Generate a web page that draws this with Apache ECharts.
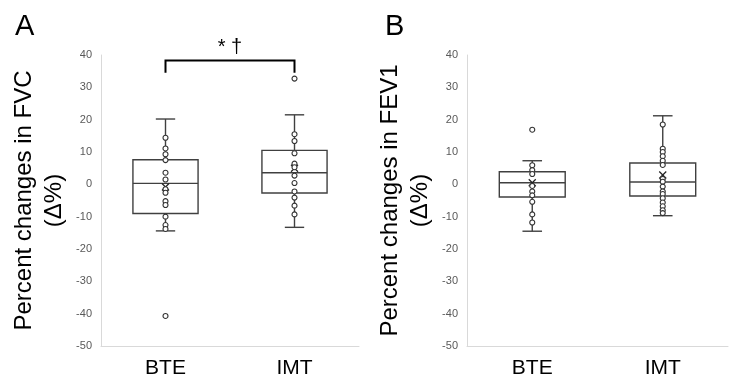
<!DOCTYPE html>
<html>
<head>
<meta charset="utf-8">
<script src="https://cdn.jsdelivr.net/npm/echarts@6/dist/echarts.min.js"></script>
<style>html,body{margin:0;padding:0;background:#fff}#c{width:740px;height:388px}</style>
</head>
<body>
<div id="c"></div>
<script>
// ---- data ----
const categories = ['BTE', 'IMT'];
const yTicks = { min: -50, max: 40, step: 10 };

// Panel A: FVC  — box stats [min, Q1, median, Q3, max]
const fvcBoxBTE = [-14.4, -9.0, 0.3, 7.6, 20.2];
const fvcBoxIMT = [-13.3, -2.7, 3.6, 10.5, 21.5];
const fvcMean = [-0.8, 5.0];
const fvcPointsBTE = [14.4, 11.1, 9.3, 7.5, 3.6, 1.5, -1.5, -2.6, -5.2, -6.4, -10.0, -12.6, -13.8, -40.7];
const fvcPointsIMT = [32.7, 15.5, 13.4, 9.6, 6.4, 5.3, 2.7, 0.4, -2.2, -4.1, -6.6, -9.3];

// Panel B: FEV1
const fev1BoxBTE = [-14.5, -3.9, 0.5, 3.9, 7.3];
const fev1BoxIMT = [-9.7, -3.6, 0.7, 6.6, 21.2];
const fev1Mean = [0.5, 2.9];
const fev1PointsBTE = [16.9, 5.9, 4.4, 3.2, -0.5, -2.2, -3.4, -5.4, -9.3, -11.8];
const fev1PointsIMT = [18.5, 11.0, 10.0, 8.7, 7.3, 6.0, 1.7, 0.8, -0.7, -2.2, -3.0, -4.3, -5.6, -6.8, -8.0, -8.9];

// significance bracket (panel A): [fromCat, toCat, topValue, endValue]
const bracket = [0, 1, 38.3, 34.5];
const bracketText = '* †';
const bracketTextValue = 42.3;

const FONT = "'Liberation Sans', Arial, sans-serif";
const LINE = '#404040';

const chart = echarts.init(document.getElementById('c'), null, { renderer: 'canvas' });

function yAxisCfg(name) {
  return {
    type: 'value', min: yTicks.min, max: yTicks.max, interval: yTicks.step,
    axisLine: { show: true, lineStyle: { color: '#d9d9d9', width: 1 } },
    axisTick: { show: false },
    splitLine: { show: false },
    axisLabel: { color: '#595959', fontSize: 11, margin: 9, fontFamily: FONT },
    name: name, nameLocation: 'middle', nameRotate: 90, nameGap: 32,
    nameTextStyle: { fontSize: 24, lineHeight: 30, color: '#000', fontFamily: FONT, align: 'center' }
  };
}
function xAxisCfg() {
  return {
    type: 'category', data: categories,
    axisLine: { show: true, onZero: false, lineStyle: { color: '#d9d9d9', width: 1 } },
    axisTick: { show: false },
    axisLabel: { color: '#000', fontSize: 21, margin: 12, fontFamily: FONT }
  };
}

function boxRender(params, api) {
  const c = api.value(0);
  const mn = api.value(1), q1 = api.value(2), md = api.value(3), q3 = api.value(4), mx = api.value(5), mean = api.value(6);
  const band = api.size([1, 0])[0];
  const bw = band * 0.505, cw = band * 0.15;
  const pMin = api.coord([c, mn]), pQ1 = api.coord([c, q1]), pMd = api.coord([c, md]);
  const pQ3 = api.coord([c, q3]), pMx = api.coord([c, mx]), pMean = api.coord([c, mean]);
  const x = pMd[0];
  const st = { stroke: LINE, lineWidth: 1.4, fill: null };
  const xs = 3.5;
  return {
    type: 'group',
    children: [
      { type: 'rect', shape: { x: x - bw / 2, y: pQ3[1], width: bw, height: pQ1[1] - pQ3[1] }, style: { stroke: LINE, lineWidth: 1.4, fill: 'rgba(0,0,0,0)' } },
      { type: 'line', shape: { x1: x - bw / 2, y1: pMd[1], x2: x + bw / 2, y2: pMd[1] }, style: st },
      { type: 'line', shape: { x1: x, y1: pQ3[1], x2: x, y2: pMx[1] }, style: st },
      { type: 'line', shape: { x1: x, y1: pQ1[1], x2: x, y2: pMin[1] }, style: st },
      { type: 'line', shape: { x1: x - cw / 2, y1: pMx[1], x2: x + cw / 2, y2: pMx[1] }, style: st },
      { type: 'line', shape: { x1: x - cw / 2, y1: pMin[1], x2: x + cw / 2, y2: pMin[1] }, style: st },
      { type: 'line', z2: 20, shape: { x1: x - xs, y1: pMean[1] - xs, x2: x + xs, y2: pMean[1] + xs }, style: { stroke: '#222', lineWidth: 1.3 } },
      { type: 'line', z2: 20, shape: { x1: x + xs, y1: pMean[1] - xs, x2: x - xs, y2: pMean[1] + xs }, style: { stroke: '#222', lineWidth: 1.3 } }
    ]
  };
}

function bracketRender(params, api) {
  const a0 = api.coord([api.value(0), api.value(3)]);
  const a1 = api.coord([api.value(0), api.value(2)]);
  const b1 = api.coord([api.value(1), api.value(2)]);
  const b0 = api.coord([api.value(1), api.value(3)]);
  const t = api.coord([api.value(0), bracketTextValue]);
  const midX = (a1[0] + b1[0]) / 2;
  return {
    type: 'group',
    children: [
      { type: 'polyline', shape: { points: [a0, a1, b1, b0] }, style: { stroke: '#000', lineWidth: 2, fill: null } },
      { type: 'text', x: midX, y: t[1], style: { text: bracketText, fill: '#000', font: '20px ' + FONT, textAlign: 'center', textVerticalAlign: 'middle' } }
    ]
  };
}

function boxData(bte, ite, means) {
  return [[0].concat(bte, [means[0]]), [1].concat(ite, [means[1]])];
}
function pts(bte, ite) {
  return bte.map(v => [0, v]).concat(ite.map(v => [1, v]));
}
const pointStyle = { color: '#fff', borderColor: '#333', borderWidth: 1.1, opacity: 1 };

chart.setOption({
  animation: false,
  title: [
    { text: 'A', left: 10, top: 7, textStyle: { fontSize: 29, fontWeight: 'normal', color: '#000', fontFamily: FONT } },
    { text: 'B', left: 380, top: 7, textStyle: { fontSize: 29, fontWeight: 'normal', color: '#000', fontFamily: FONT } }
  ],
  grid: [
    { left: 101, top: 55, width: 258, height: 291 },
    { left: 467, top: 55, width: 261, height: 291 }
  ],
  xAxis: [Object.assign(xAxisCfg(), { gridIndex: 0 }), Object.assign(xAxisCfg(), { gridIndex: 1 })],
  yAxis: [
    Object.assign(yAxisCfg('Percent changes in FVC\n(Δ%)'), { gridIndex: 0 }),
    Object.assign(yAxisCfg('Percent changes in FEV1\n(Δ%)'), { gridIndex: 1 })
  ],
  series: [
    { type: 'custom', xAxisIndex: 0, yAxisIndex: 0, renderItem: boxRender, data: boxData(fvcBoxBTE, fvcBoxIMT, fvcMean), z: 2 },
    { type: 'custom', xAxisIndex: 1, yAxisIndex: 1, renderItem: boxRender, data: boxData(fev1BoxBTE, fev1BoxIMT, fev1Mean), z: 2 },
    { type: 'scatter', xAxisIndex: 0, yAxisIndex: 0, symbol: 'circle', symbolSize: 5, itemStyle: pointStyle, data: pts(fvcPointsBTE, fvcPointsIMT), z: 5 },
    { type: 'scatter', xAxisIndex: 1, yAxisIndex: 1, symbol: 'circle', symbolSize: 5, itemStyle: pointStyle, data: pts(fev1PointsBTE, fev1PointsIMT), z: 5 },
    { type: 'custom', xAxisIndex: 0, yAxisIndex: 0, renderItem: bracketRender, data: [bracket], clip: false, z: 6 }
  ]
});
</script>
</body>
</html>
